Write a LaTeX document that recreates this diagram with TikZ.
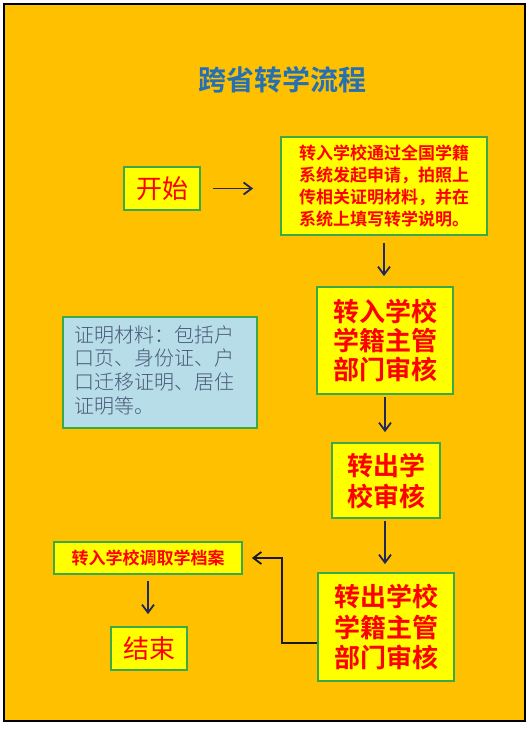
\documentclass[tikz,border=0pt]{standalone}
\usepackage{fontspec}
\setmainfont{Noto Sans CJK SC}
\newfontfamily\cjkb{Noto Sans CJK SC Bold}
\newfontfamily\cjkl{Noto Sans CJK SC Light}
\usetikzlibrary{arrows.meta}
\definecolor{bgorange}{HTML}{FFC000}
\definecolor{boxyellow}{HTML}{FFFF00}
\definecolor{boxgreen}{HTML}{3AAA48}
\definecolor{txtred}{HTML}{FF0000}
\definecolor{titleblue}{HTML}{2470B3}
\definecolor{infofill}{HTML}{B7DEE8}
\definecolor{infotext}{HTML}{4A5878}
\definecolor{arrnavy}{HTML}{1F2A5A}
\definecolor{arrblack}{HTML}{1A1A24}
\tikzset{
  flowbox/.style={draw=boxgreen, line width=1.8pt, fill=boxyellow, text=txtred,
    rectangle, inner sep=0pt, align=center, anchor=center},
  infobox/.style={draw=boxgreen, line width=1.8pt, fill=infofill, text=infotext,
    rectangle, inner sep=0pt, anchor=center},
  flowarrow/.style={draw=arrnavy, line width=1.8pt,
    -{Straight Barb[length=8pt,width=12pt,line width=1.8pt]}},
  elbowarrow/.style={draw=arrblack, line width=1.8pt,
    -{Straight Barb[length=8pt,width=12pt,line width=1.8pt]}}
}
\begin{document}
\begin{tikzpicture}[x=1pt,y=-1pt]
\useasboundingbox (0,0) rectangle (530,729);
\fill[white] (0,0) rectangle (530,729);
\draw[line width=2.2pt, fill=bgorange] (4,4) rectangle (525,721);

\node[text=titleblue, font=\cjkb\fontsize{28}{32}\selectfont] (title) at (282,80) {跨省转学流程};

\node[flowbox, minimum width=76pt, minimum height=43pt,
  font=\fontsize{26}{28}\selectfont] (start) at (162,188.5) {开始};

\node[flowbox, minimum width=206pt, minimum height=98pt,
  font=\cjkb\fontsize{17}{21.7}\selectfont] (apply) at (384,186)
  {转入学校通过全国学籍\\系统发起申请，拍照上\\传相关证明材料，并在\\系统上填写转学说明。};

\node[flowbox, minimum width=136pt, minimum height=107pt,
  font=\cjkb\fontsize{26}{29}\selectfont] (inadm) at (385,340.5)
  {转入学校\\学籍主管\\部门审核};

\node[flowbox, minimum width=108pt, minimum height=75pt,
  font=\cjkb\fontsize{26}{31}\selectfont] (outsch) at (386,480.5)
  {转出学\\校审核};

\node[flowbox, minimum width=136pt, minimum height=108pt,
  font=\cjkb\fontsize{26}{30.5}\selectfont] (outadm) at (386,627)
  {转出学校\\学籍主管\\部门审核};

\node[flowbox, minimum width=188pt, minimum height=32pt,
  font=\cjkb\fontsize{17}{20}\selectfont] (fetch) at (148,558)
  {转入学校调取学档案};

\node[flowbox, minimum width=76pt, minimum height=43pt,
  font=\fontsize{26}{28}\selectfont] (finish) at (149,648.5) {结束};

\node[infobox, minimum width=194pt, minimum height=111pt] (info) at (160,372.5) {};
\node[text=infotext, anchor=north west, inner sep=0pt, align=left,
  font=\cjkl\fontsize{20}{23.7}\selectfont] (infotxt) at (74,325)
  {证明材料：包括户\\口页、身份证、户\\口迁移证明、居住\\证明等。};

\draw[flowarrow, shorten <=12pt, shorten >=27pt] (start.east) -- (apply.west |- start.east);
\draw[flowarrow, shorten <=7pt, shorten >=10pt] (apply.south) -- (apply.south |- inadm.north);
\draw[flowarrow, shorten <=2pt, shorten >=10pt] (inadm.south) -- (outsch.north -| inadm.south);
\draw[flowarrow, shorten <=2pt, shorten >=8pt] (outsch.south -| inadm.south) -- (outadm.north -| inadm.south);
\coordinate (elbowstart) at ([yshift=-16pt]outadm.west);
\draw[elbowarrow, shorten >=9pt] (elbowstart) -- ++(-35,0) |- (fetch.east);
\draw[flowarrow, shorten <=6pt, shorten >=12pt] (fetch.south) -- (finish.north -| fetch.south);
\end{tikzpicture}
\end{document}
